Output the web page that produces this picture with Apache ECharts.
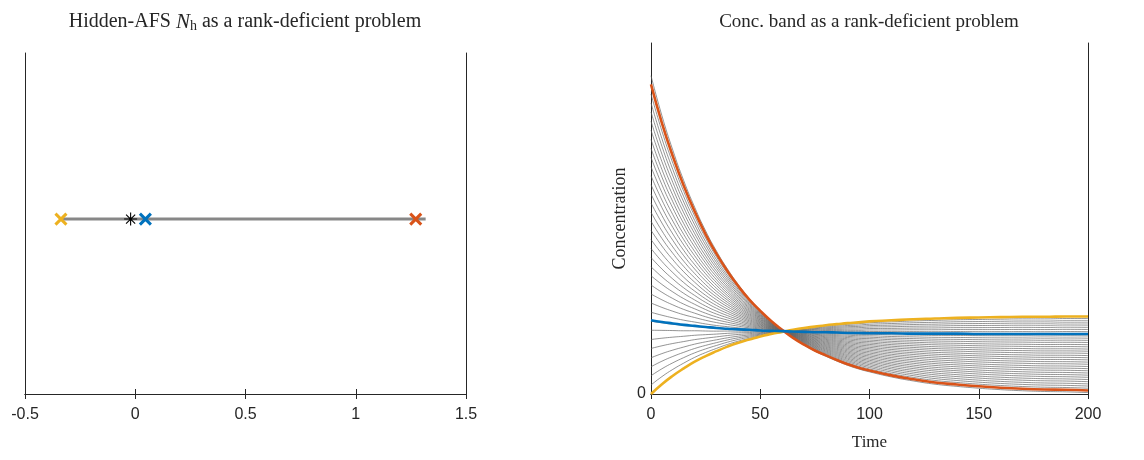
<!DOCTYPE html>
<html>
<head>
<meta charset="utf-8">
<script src="https://cdn.jsdelivr.net/npm/echarts@6/dist/echarts.min.js"></script>
<style>
  html, body { margin: 0; padding: 0; background: #ffffff; }
  #chart { width: 1144px; height: 460px; }
</style>
</head>
<body>
<div id="chart"></div>
<script>
// ---- Left panel: hidden AFS segment and the points marked on it ----
const afsSegment = [-0.337, 1.317];
const afsLevel = 0.513;
const afsYellow = -0.337;
const afsStar = -0.021;
const afsBlue = 0.046;
const afsOrange = 1.272;
const afsTicks = [-0.5, 0, 0.5, 1, 1.5];

// ---- Right panel: concentration profiles over time ----
const times      = [0,     5,     10,    15,    20,    25,    30,    35,    40,    45,    50,    55,    60,    65,    70,    75,
                    80,    85,    90,    95,    100,   110,   120,   130,   140,   150,   160,   170,   180,   190,   200];
const concOrange = [0.882, 0.772, 0.677, 0.593, 0.520, 0.455, 0.399, 0.350, 0.307, 0.269, 0.237, 0.208, 0.183, 0.160, 0.141, 0.124,
                    0.110, 0.097, 0.085, 0.075, 0.067, 0.053, 0.042, 0.033, 0.027, 0.022, 0.018, 0.015, 0.013, 0.012, 0.010];
const concYellow = [0.000, 0.028, 0.052, 0.073, 0.092, 0.108, 0.122, 0.135, 0.146, 0.155, 0.164, 0.171, 0.177, 0.183, 0.188, 0.192,
                    0.196, 0.199, 0.202, 0.204, 0.207, 0.210, 0.213, 0.215, 0.217, 0.218, 0.219, 0.220, 0.220, 0.221, 0.221];
const concBlue   = [0.210, 0.205, 0.201, 0.197, 0.194, 0.191, 0.188, 0.186, 0.184, 0.183, 0.181, 0.180, 0.179, 0.178, 0.177, 0.176,
                    0.176, 0.175, 0.174, 0.174, 0.173, 0.173, 0.172, 0.172, 0.172, 0.171, 0.171, 0.171, 0.171, 0.171, 0.171];
// weights of the gray band profiles between the yellow (0) and orange (1) profiles
const bandWeights = [0.000, 0.029, 0.059, 0.088, 0.117, 0.147, 0.176, 0.206, 0.235, 0.264, 0.294, 0.323,
                     0.352, 0.382, 0.411, 0.441, 0.470, 0.499, 0.529, 0.558, 0.587, 0.617, 0.646, 0.676,
                     0.705, 0.734, 0.764, 0.793, 0.822, 0.852, 0.881, 0.911, 0.940, 0.969, 0.999, 1.028];
const timeTicks = [0, 50, 100, 150, 200];

const AXIS = '#262626';
const SANS = 'Liberation Sans';
const SERIF = 'Liberation Serif';
const C_BLUE = '#0072BD', C_ORANGE = '#D95319', C_YELLOW = '#EDB120';

const pairs = (ys) => times.map((t, i) => [t, ys[i]]);
// a profile inside the rank-deficient band is a mixture of the two extreme profiles
const mix = (w) => times.map((t, i) => [t, concYellow[i] + w * (concOrange[i] - concYellow[i])]);

const crossPath = 'path://M0,0L10,10M10,0L0,10';
const starPath = 'path://M5,0L5,10M0,5L10,5M1.5,1.5L8.5,8.5M8.5,1.5L1.5,8.5';

function mirrorX(grid, min, max, interval) {
  return {
    gridIndex: grid, type: 'value', position: 'top', min, max, interval,
    axisLine: { show: true, lineStyle: { color: AXIS, width: 1 } },
    axisTick: { show: true, inside: true, length: 5, lineStyle: { color: AXIS } },
    axisLabel: { show: false }, splitLine: { show: false }
  };
}
function sideY(grid, pos) {
  return {
    gridIndex: grid, type: 'value', position: pos, min: 0, max: 1,
    axisLine: { show: true, onZero: false, lineStyle: { color: AXIS, width: 1 } },
    axisTick: { show: false }, axisLabel: { show: false }, splitLine: { show: false }
  };
}
function marker(x, path, size, color, width) {
  return {
    type: 'scatter', xAxisIndex: 0, yAxisIndex: 0, data: [[x, afsLevel]],
    symbol: path, symbolSize: size, z: 5,
    itemStyle: { color: 'rgba(0,0,0,0)', borderColor: color, borderWidth: width, opacity: 1 }
  };
}

const series = [
  {
    type: 'line', xAxisIndex: 0, yAxisIndex: 0, symbol: 'none', z: 3,
    data: [[afsSegment[0], afsLevel], [afsSegment[1], afsLevel]],
    lineStyle: { color: '#878787', width: 3 }
  },
  marker(afsYellow, crossPath, 11, C_YELLOW, 3),
  marker(afsStar, starPath, 13, '#000000', 1.1),
  marker(afsBlue, crossPath, 11, C_BLUE, 3),
  marker(afsOrange, crossPath, 11, C_ORANGE, 3)
];
bandWeights.forEach((w) => {
  series.push({
    type: 'line', xAxisIndex: 2, yAxisIndex: 2, symbol: 'none', silent: true,
    smooth: true, z: 2,
    data: mix(w), lineStyle: { color: '#666666', width: 0.7 }
  });
});
[[concYellow, C_YELLOW], [concOrange, C_ORANGE], [concBlue, C_BLUE]].forEach(([ys, c]) => {
  series.push({
    type: 'line', xAxisIndex: 2, yAxisIndex: 2, symbol: 'none',
    smooth: true, z: 4,
    data: pairs(ys), lineStyle: { color: c, width: 2.6 }
  });
});

const chart = echarts.init(document.getElementById('chart'), null, { renderer: 'canvas' });
chart.setOption({
  animation: false,
  backgroundColor: '#ffffff',
  grid: [
    { left: 25, top: 53, width: 441, height: 341 },
    { left: 651, top: 43, width: 437, height: 351 }
  ],
  xAxis: [
    {
      gridIndex: 0, type: 'value', min: afsTicks[0], max: afsTicks[afsTicks.length - 1], interval: 0.5,
      axisLine: { show: true, onZero: false, lineStyle: { color: AXIS, width: 1 } },
      axisTick: { show: true, inside: true, length: 5, lineStyle: { color: AXIS } },
      axisLabel: { fontFamily: SANS, fontSize: 16, color: AXIS, margin: 13,
                   formatter: (v) => String(afsTicks.find((t) => Math.abs(t - v) < 1e-9) ?? '') },
      splitLine: { show: false }
    },
    mirrorX(0, -0.5, 1.5, 0.5),
    {
      gridIndex: 1, type: 'value', min: timeTicks[0], max: timeTicks[timeTicks.length - 1], interval: 50,
      axisLine: { show: true, onZero: false, lineStyle: { color: AXIS, width: 1 } },
      axisTick: { show: true, inside: true, length: 5, lineStyle: { color: AXIS } },
      axisLabel: { fontFamily: SANS, fontSize: 16, color: AXIS, margin: 13 },
      splitLine: { show: false },
      name: 'Time', nameLocation: 'middle', nameGap: 40,
      nameTextStyle: { fontFamily: SERIF, fontSize: 17, color: AXIS }
    },
    mirrorX(1, 0, 200, 50)
  ],
  yAxis: [
    sideY(0, 'left'),
    sideY(0, 'right'),
    {
      gridIndex: 1, type: 'value', min: 0, max: 1, interval: 1, position: 'left',
      axisLine: { show: true, onZero: false, lineStyle: { color: AXIS, width: 1 } },
      axisTick: { show: false },
      axisLabel: { fontFamily: SANS, fontSize: 16, color: AXIS, margin: 5,
                   formatter: (v) => (v === 0 ? '0' : '') },
      splitLine: { show: false },
      name: 'Concentration', nameLocation: 'middle', nameGap: 22, nameRotate: 90,
      nameTextStyle: { fontFamily: SERIF, fontSize: 18, color: AXIS }
    },
    sideY(1, 'right')
  ],
  graphic: [
    {
      type: 'text', x: 245, y: 22, silent: true,
      style: {
        text: '{a|Hidden-AFS }{n|N}{s|h}{a| as a rank-deficient problem}',
        align: 'center', verticalAlign: 'middle', fill: AXIS,
        rich: {
          a: { fontFamily: SERIF, fontSize: 20, lineHeight: 22, color: AXIS },
          n: { fontFamily: SERIF, fontSize: 21, fontStyle: 'italic', lineHeight: 22, color: AXIS },
          s: { fontFamily: SERIF, fontSize: 14, lineHeight: 13, verticalAlign: 'bottom', color: AXIS }
        }
      }
    },
    {
      type: 'text', x: 869, y: 22, silent: true,
      style: {
        text: 'Conc. band as a rank-deficient problem',
        align: 'center', verticalAlign: 'middle', fill: AXIS,
        font: '19px "Liberation Serif"'
      }
    }
  ],
  series
});
</script>
</body>
</html>
